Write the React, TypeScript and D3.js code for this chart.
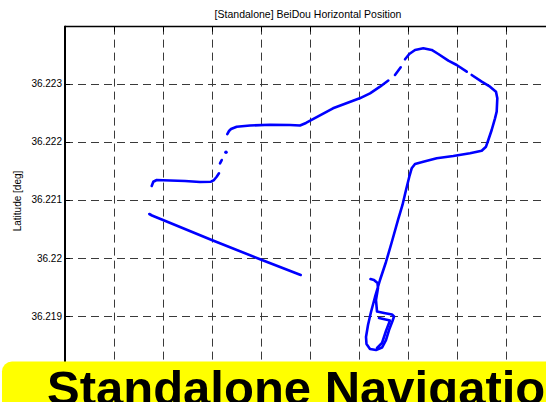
import React, { useEffect } from "react";
import * as d3 from "d3";

const W = 546;
const H = 402;

const titleText = "[Standalone] BeiDou Horizontal Position";
const yLabelText = "Latitude [deg]";
const bannerText = "Standalone Navigation";

const xDomain = [120.379, 120.389];
const yDomain = [36.218, 36.22398];
const xGridValues = [120.38, 120.381, 120.382, 120.383, 120.384, 120.385, 120.386, 120.387, 120.388];
const yTickValues = [36.219, 36.22, 36.221, 36.222, 36.223];
const yTickLabels = ["36.219", "36.22", "36.221", "36.222", "36.223"];

// Track segments [lon, lat]
const segLowerDiagonal: [number, number][] = [
  [120.380722, 36.220758], [120.380777, 36.220732], [120.380838, 36.220711], [120.381002, 36.220655],
  [120.381996, 36.220311], [120.382997, 36.219976], [120.383814, 36.219709],
];
const segLeftHook: [number, number][] = [
  [120.380771, 36.221239], [120.380804, 36.221313], [120.380873, 36.221342], [120.381002, 36.221337],
  [120.381451, 36.221325], [120.381757, 36.221308], [120.381982, 36.221313], [120.382043, 36.221342],
  [120.382098, 36.221399], [120.382145, 36.221458],
];
const segDots: [number, number][] = [[120.382166, 36.22163], [120.382201, 36.221686]];
const segSingle: [number, number][] = [[120.382288, 36.221819]];
const segMiddle: [number, number][] = [
  [120.382315, 36.222133], [120.38235, 36.222185], [120.382391, 36.222219], [120.382507, 36.222259],
  [120.382779, 36.22228], [120.383187, 36.222292], [120.383596, 36.222288], [120.3838, 36.22228],
  [120.383922, 36.222323], [120.384474, 36.222575], [120.385019, 36.222747], [120.38523, 36.222833],
  [120.385434, 36.222947], [120.385603, 36.223053],
];
const segShort: [number, number][] = [[120.38574, 36.223148], [120.385857, 36.22328]];
const segPeak: [number, number][] = [
  [120.385945, 36.223418], [120.386032, 36.223509], [120.386149, 36.223578], [120.386318, 36.223607],
  [120.38649, 36.223578], [120.386625, 36.223509], [120.386829, 36.223394], [120.387, 36.22332],
  [120.387205, 36.223205],
];
const segMain: [number, number][] = [
  [120.387307, 36.223148], [120.387511, 36.223033], [120.387681, 36.222947], [120.387803, 36.222861],
  [120.38783, 36.222747], [120.387817, 36.222517], [120.387783, 36.222403], [120.387715, 36.222202],
  [120.387646, 36.22203], [120.387599, 36.221915], [120.387511, 36.221846], [120.387272, 36.221802],
  [120.386931, 36.221755], [120.386592, 36.221716], [120.386318, 36.221657], [120.386149, 36.221618],
  [120.386081, 36.221544], [120.386032, 36.221399], [120.385965, 36.22117], [120.385893, 36.220913],
  [120.385802, 36.220655], [120.385669, 36.220259], [120.385556, 36.219933], [120.385434, 36.219623],
  [120.385332, 36.219331], [120.38525, 36.219073], [120.385189, 36.218849], [120.385148, 36.218643],
  [120.385158, 36.218523], [120.38523, 36.218437], [120.385352, 36.218419], [120.385475, 36.218462],
  [120.385556, 36.218591], [120.385618, 36.218763], [120.385689, 36.218918], [120.38572, 36.218996],
  [120.385679, 36.21903], [120.385516, 36.219056], [120.385373, 36.219081], [120.385352, 36.219279],
  [120.385393, 36.219486], [120.385383, 36.219571], [120.385311, 36.219623], [120.38524, 36.21964],
];
const segInner: [number, number][] = [
  [120.385413, 36.21897], [120.385638, 36.218927], [120.385556, 36.218746], [120.385475, 36.21854],
  [120.385373, 36.218454],
];

const segments = [segLowerDiagonal, segLeftHook, segDots, segMiddle, segShort, segPeak, segMain, segInner];
const singles = [segSingle];

export default function App() {
  useEffect(() => {
    document.body.style.margin = "0";
  }, []);

  const left = 65;
  const top = 26.6;
  const bottom = 374;
  const right = 560;

  const x = d3.scaleLinear().domain(xDomain).range([65, 554.6]);
  const y = d3.scaleLinear().domain(yDomain).range([374.4, 26.6]);
  const line = d3
    .line<[number, number]>()
    .x((d) => x(d[0]))
    .y((d) => y(d[1]))
    .curve(d3.curveLinear);

  const font = "'Liberation Sans', Arial, Helvetica, sans-serif";
  const blue = "#0000ff";

  return (
    <div style={{ position: "absolute", left: 0, top: 0, width: W, height: H, overflow: "hidden" }}>
      <svg width={W} height={H} style={{ display: "block", background: "#fff" }} fontFamily={font}>
        <rect x={0} y={0} width={W} height={H} fill="#fff" />
        {/* grid */}
        <g stroke="#3a3a3a" strokeWidth={1} strokeDasharray="8,5" fill="none">
          {xGridValues.map((v) => (
            <line key={"gx" + v} x1={Math.round(x(v)) + 0.5} x2={Math.round(x(v)) + 0.5} y1={top} y2={bottom} />
          ))}
          {yTickValues.map((v) => (
            <line key={"gy" + v} x1={left} x2={right} y1={Math.round(y(v)) + 0.5} y2={Math.round(y(v)) + 0.5} />
          ))}
        </g>
        {/* ticks */}
        <g stroke="#000" strokeWidth={1}>
          {xGridValues.map((v) => (
            <line key={"tx" + v} x1={Math.round(x(v)) + 0.5} x2={Math.round(x(v)) + 0.5} y1={top} y2={top + 5} />
          ))}
          {yTickValues.map((v) => (
            <line key={"ty" + v} x1={left} x2={left + 5} y1={Math.round(y(v)) + 0.5} y2={Math.round(y(v)) + 0.5} />
          ))}
        </g>
        {/* data */}
        <g fill="none" stroke={blue} strokeWidth={2.6} strokeLinejoin="round" strokeLinecap="round">
          {segments.map((s, i) => (
            <path key={"s" + i} d={line(s) || ""} />
          ))}
        </g>
        {singles.map((s, i) =>
          s.map((d, j) => (
            <circle key={"p" + i + "-" + j} cx={x(d[0])} cy={y(d[1])} r={1.8} fill={blue} />
          ))
        )}
        {/* axes */}
        <line x1={left} x2={right} y1={top} y2={top} stroke="#000" strokeWidth={1.5} />
        <line x1={left} x2={left} y1={top - 0.75} y2={bottom} stroke="#000" strokeWidth={2} />
        {/* y tick labels */}
        <g fontSize={10} fill="#000" textAnchor="end">
          {yTickValues.map((v, i) => (
            <text key={"yl" + v} x={62} y={y(v)} dy="0.35em">
              {yTickLabels[i]}
            </text>
          ))}
        </g>
        <text x={308} y={18} fontSize={10.5} textAnchor="middle" fill="#000">
          {titleText}
        </text>
        <text
          transform={`translate(20.5,201) rotate(-90)`}
          fontSize={10}
          textAnchor="middle"
          fill="#000"
        >
          {yLabelText}
        </text>
        {/* banner */}
        <rect x={2} y={361.5} width={600} height={80} rx={10} ry={10} fill="#ffff00" />
        <text x={47} y={405} fontSize={49} fontWeight="bold" fill="#000">
          {bannerText}
        </text>
      </svg>
    </div>
  );
}
